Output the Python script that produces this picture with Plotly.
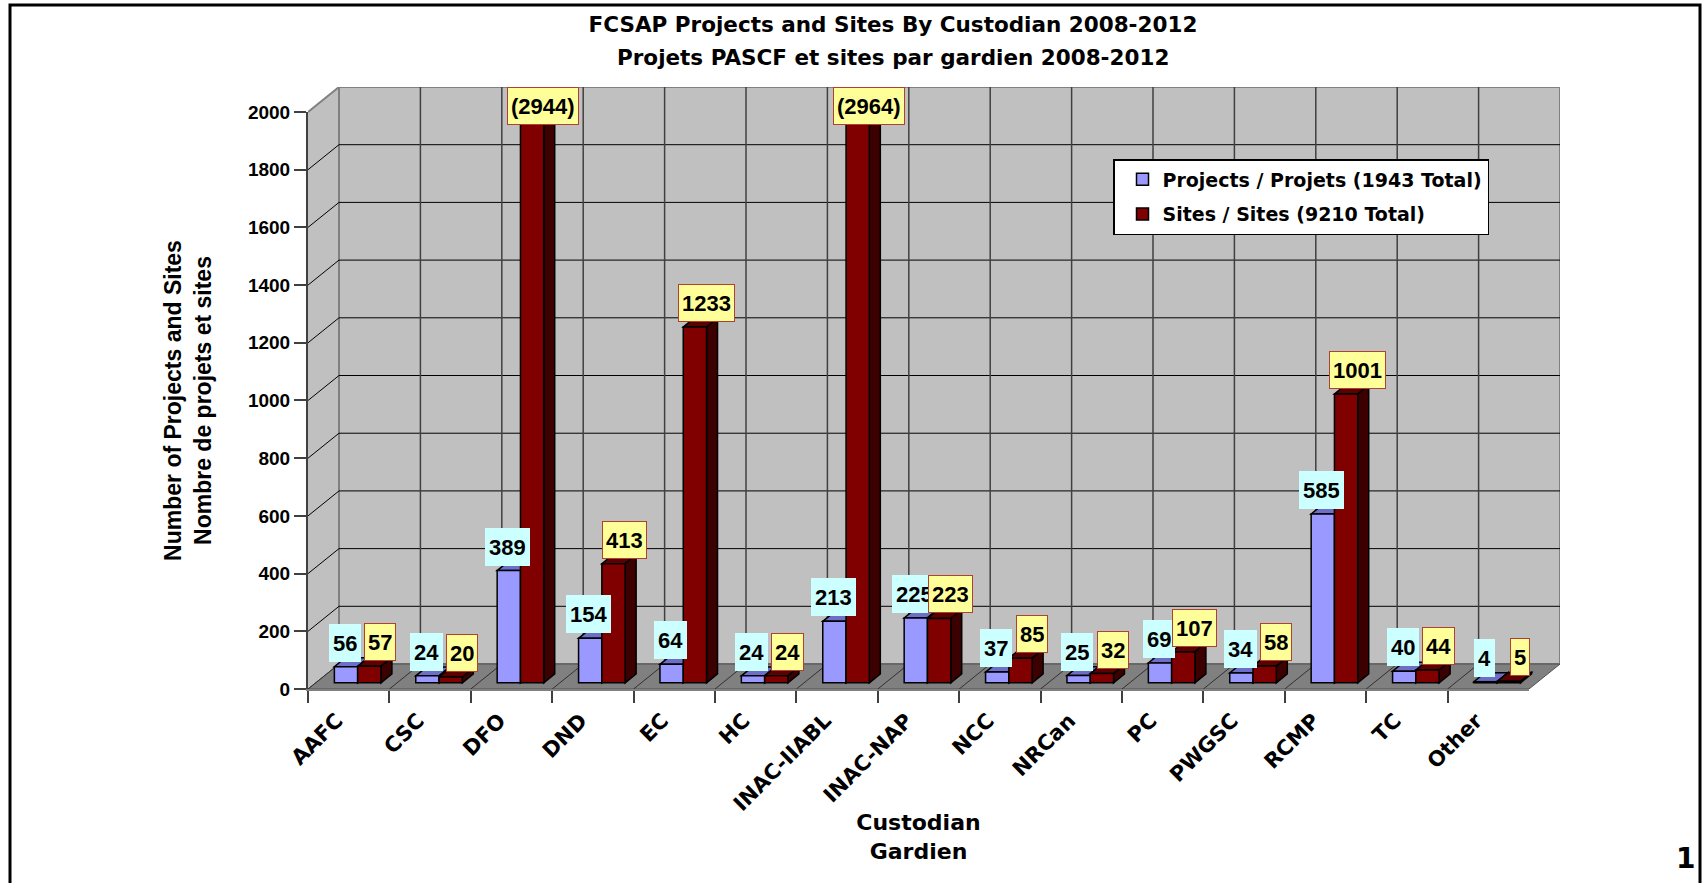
import plotly.graph_objects as go

# ---------------- data ----------------
categories = ["AAFC", "CSC", "DFO", "DND", "EC", "HC", "INAC-IIABL", "INAC-NAP",
              "NCC", "NRCan", "PC", "PWGSC", "RCMP", "TC", "Other"]
projects = [56, 24, 389, 154, 64, 24, 213, 225, 37, 25, 69, 34, 585, 40, 4]
sites = [57, 20, 2944, 413, 1233, 24, 2964, 223, 85, 32, 107, 58, 1001, 44, 5]
y_tick_values = list(range(0, 2001, 200))
axis_max = 2000

title_en = "FCSAP Projects and Sites By Custodian 2008-2012"
title_fr = "Projets PASCF et sites par gardien 2008-2012"
x_title = "Custodian<br>Gardien"
y_title = "Number of Projects and Sites<br>Nombre de projets et sites"
series_names = ["Projects / Projets", "Sites / Sites"]
page_number = "1"

# ---------------- styling / geometry ----------------
FIG_W, FIG_H = 1703, 883
ML, MR, MT, MB = 308, 143, 87, 194
PLOT_W = FIG_W - ML - MR
PLOT_H = FIG_H - MT - MB

n = len(categories)
DEPTH_X = 0.381          # floor depth in category units
DEPTH_Y = 86.6           # floor depth in value units
x_lo, x_hi = -0.5, n - 0.5 + DEPTH_X
y_hi = axis_max + DEPTH_Y
front_frac_x = n / (n + DEPTH_X)
front_frac_y = axis_max / y_hi

BAR_W = 0.286
BAR_SHIFT = 0.11
BAR_BASE = 21.5
BAR_DX = 0.135
BAR_DY = 31.0

front_colors = ["#9999FF", "#800000"]
top_colors = ["#6E6EC8", "#5C0000"]
side_colors = ["#4C4C9E", "#3C0000"]
label_bg = ["#CCFFFF", "#FFFF99"]
label_border = ["#CCFFFF", "#B04030"]
label_dx = [-0.05, 0.39]

WALL = "#C0C0C0"
FLOOR = "#808080"

def px_x(px):
    return (px - ML) / PLOT_W

def px_y(py):
    return (FIG_H - MB - py) / PLOT_H

def font(size, family="DejaVu Sans", color="black"):
    return dict(family=family, size=size, color=color, weight="bold")

fig = go.Figure()

series = [projects, sites]
for k, vals in enumerate(series):
    fig.add_trace(go.Bar(
        x=categories,
        y=[min(v, axis_max) for v in vals],
        base=BAR_BASE,
        width=BAR_W,
        offset=BAR_SHIFT - BAR_W + k * BAR_W,
        xaxis="x2", yaxis="y2",
        marker=dict(color=front_colors[k], line=dict(color="black", width=1.5)),
        name=f"{series_names[k]} ({sum(vals)} Total)",
        legendgroup=str(k),
        customdata=vals,
        hovertemplate="%{x}: %{customdata}<extra></extra>",
    ))

shapes = []
# left side wall
shapes.append(dict(type="path", xref="x", yref="y", layer="below",
                   path=f"M {x_lo},0 L {x_lo},{axis_max} L {x_lo + DEPTH_X},{y_hi} L {x_lo + DEPTH_X},{DEPTH_Y} Z",
                   fillcolor=WALL, line=dict(width=0)))
# back wall
shapes.append(dict(type="rect", xref="x", yref="y", layer="below",
                   x0=x_lo + DEPTH_X, x1=n - 0.5 + DEPTH_X, y0=DEPTH_Y, y1=y_hi,
                   fillcolor=WALL, line=dict(color="#808080", width=2)))
# floor
shapes.append(dict(type="path", xref="x", yref="y", layer="below",
                   path=f"M {x_lo},0 L {n - 0.5},0 L {n - 0.5 + DEPTH_X},{DEPTH_Y} L {x_lo + DEPTH_X},{DEPTH_Y} Z",
                   fillcolor=FLOOR, line=dict(color="#505050", width=1)))
# grid lines
for v in y_tick_values[1:-1]:
    shapes.append(dict(type="line", xref="x", yref="y", layer="below",
                       x0=x_lo + DEPTH_X, x1=n - 0.5 + DEPTH_X, y0=v + DEPTH_Y, y1=v + DEPTH_Y,
                       line=dict(color="black", width=1)))
    shapes.append(dict(type="line", xref="x", yref="y", layer="below",
                       x0=x_lo, x1=x_lo + DEPTH_X, y0=v, y1=v + DEPTH_Y,
                       line=dict(color="black", width=1)))
shapes.append(dict(type="line", xref="x", yref="y", layer="below",
                   x0=x_lo, x1=x_lo + DEPTH_X, y0=axis_max, y1=y_hi,
                   line=dict(color="#808080", width=2)))
for i in range(1, n):
    b = i - 0.5
    shapes.append(dict(type="line", xref="x", yref="y", layer="below",
                       x0=b + DEPTH_X, x1=b + DEPTH_X, y0=DEPTH_Y, y1=y_hi,
                       line=dict(color="#404040", width=1.5)))
    shapes.append(dict(type="line", xref="x", yref="y", layer="below",
                       x0=b, x1=b + DEPTH_X, y0=0, y1=DEPTH_Y,
                       line=dict(color="#303030", width=1)))
shapes.append(dict(type="line", xref="x", yref="y", layer="below",
                   x0=x_lo, x1=x_lo + DEPTH_X, y0=0, y1=DEPTH_Y,
                   line=dict(color="#303030", width=1)))

# 3D top and side faces of bars
for i in range(n):
    for k, vals in enumerate(series):
        x0 = i + BAR_SHIFT - BAR_W + k * BAR_W
        x1 = x0 + BAR_W
        y0 = BAR_BASE
        y1 = BAR_BASE + min(vals[i], axis_max)
        shapes.append(dict(type="path", xref="x", yref="y", layer="below",
                           path=f"M {x0},{y1} L {x1},{y1} L {x1 + BAR_DX},{y1 + BAR_DY} L {x0 + BAR_DX},{y1 + BAR_DY} Z",
                           fillcolor=top_colors[k], line=dict(color="black", width=1.5)))
        shapes.append(dict(type="path", xref="x", yref="y", layer="below",
                           path=f"M {x1},{y0} L {x1},{y1} L {x1 + BAR_DX},{y1 + BAR_DY} L {x1 + BAR_DX},{y0 + BAR_DY} Z",
                           fillcolor=side_colors[k], line=dict(color="black", width=1.5)))

# outer frame
shapes.append(dict(type="path", xref="paper", yref="paper", layer="above",
                   path=f"M {px_x(10)},{px_y(FIG_H + 20)} L {px_x(10)},{px_y(5)} L {px_x(1700)},{px_y(5)} L {px_x(1700)},{px_y(FIG_H + 20)}",
                   line=dict(color="black", width=3)))

annotations = []
for k, vals in enumerate(series):
    for i, v in enumerate(vals):
        clipped = v > axis_max
        annotations.append(dict(
            xref="x", yref="y",
            x=i + label_dx[k],
            y=y_hi if clipped else BAR_BASE + v,
            yanchor="top" if clipped else "bottom",
            xanchor="center",
            yshift=0 if clipped else 5,
            text=f"({v})" if clipped else str(v),
            showarrow=False,
            font=font(22, "Liberation Sans"),
            height=30, valign="middle",
            bgcolor=label_bg[k], bordercolor=label_border[k], borderwidth=1, borderpad=3,
        ))

annotations.append(dict(xref="paper", yref="paper", x=px_x(893), y=px_y(57.5),
                        xanchor="center", yanchor="middle", showarrow=False,
                        text=title_fr, font=font(21.5)))
annotations.append(dict(xref="paper", yref="paper", x=px_x(1697), y=px_y(840),
                        xanchor="right", yanchor="top", showarrow=False,
                        text=page_number, font=font(28)))

fig.update_layout(
    width=FIG_W, height=FIG_H,
    margin=dict(l=ML, r=MR, t=MT, b=MB, pad=0, autoexpand=False),
    paper_bgcolor="white", plot_bgcolor="rgba(0,0,0,0)",
    template="none",
    barmode="overlay",
    title=dict(text=title_en, x=893 / FIG_W, xanchor="center", xref="container",
               y=1 - 24 / FIG_H, yanchor="middle", yref="container", font=font(21.5)),
    xaxis=dict(domain=[0, 1], range=[x_lo, x_hi], visible=False, fixedrange=True),
    yaxis=dict(domain=[0, 1], range=[0, y_hi], visible=False, fixedrange=True),
    xaxis2=dict(domain=[0, front_frac_x], anchor="y2", type="category",
                categoryorder="array", categoryarray=categories,
                range=[-0.5, n - 0.5], tickson="boundaries", ticks="outside",
                ticklen=12, tickwidth=1.5, tickcolor="#404040", tickangle=-45,
                tickfont=font(21), ticklabelstandoff=9, ticklabelshift=-12,
                showline=True, linecolor="#808080", linewidth=2,
                showgrid=False, zeroline=False, automargin=False, fixedrange=True,
                title=dict(text=x_title, font=font(22), standoff=0)),
    yaxis2=dict(domain=[0, front_frac_y], anchor="x2", range=[0, axis_max],
                tickvals=y_tick_values, ticks="outside", ticklen=12, tickwidth=1.5,
                tickcolor="#404040", tickfont=font(19, "Liberation Sans"),
                showline=True, linecolor="#404040", linewidth=2,
                showgrid=False, zeroline=False, automargin=False, fixedrange=True,
                title=dict(text=y_title, font=font(23, "Liberation Sans"), standoff=30)),
    legend=dict(x=px_x(1113), y=px_y(159), xanchor="left", yanchor="top",
                bgcolor="white", bordercolor="black", borderwidth=1.5,
                font=font(19), tracegroupgap=7, indentation=8),
    shapes=shapes,
    annotations=annotations,
    showlegend=True,
)

fig.write_html("out.html", config={"displayModeBar": False},
               post_script="document.body.style.margin='0';document.body.style.overflow='hidden';")
